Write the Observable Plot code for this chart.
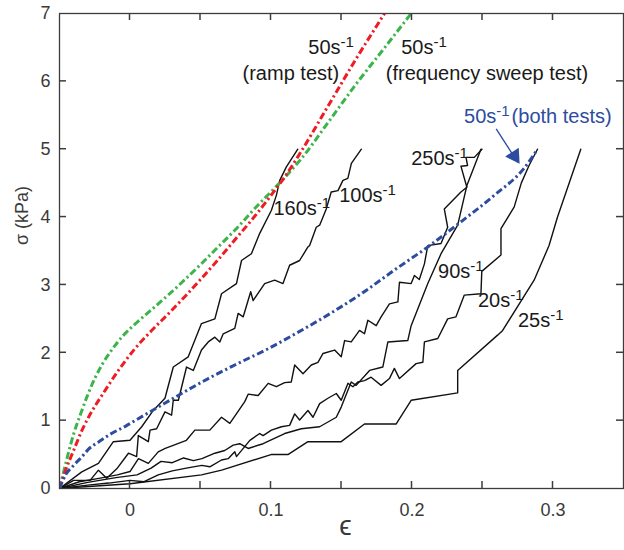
<!DOCTYPE html>
<html><head><meta charset="utf-8">
<script src="https://cdn.jsdelivr.net/npm/d3@7"></script>
<script src="https://cdn.jsdelivr.net/npm/@observablehq/plot@0.6"></script>
<style>body{margin:0;background:#fff;font-family:"Liberation Sans",Arial,sans-serif;} svg{display:block}</style>
</head><body><div id="chart"></div>
<script>
// ---- data: [strain ε, stress σ (kPa)] ----
const rate160 = [[-0.05,0],[-0.0342,0.245],[-0.0224,0.37],[-0.0118,0.69],[0,0.71],[0.0083,0.91],[0.0165,1.15],[0.0248,1.33],[0.0307,1.79],[0.0413,1.94],[0.0507,2.43],[0.0602,2.50],[0.0649,2.87],[0.0755,3.02],[0.0791,3.36],[0.0861,3.46],[0.092,3.76],[0.1003,4.10],[0.1038,4.32],[0.1062,4.54],[0.1109,4.74],[0.119,5.0]];
const rate100 = [[-0.05,0],[-0.04,0.12],[-0.0283,0.12],[-0.0224,0.27],[-0.0165,0.15],[-0.0094,0.29],[-0.0011,0.52],[0.0047,0.47],[0.0059,0.78],[0.013,0.69],[0.0142,0.86],[0.0189,0.88],[0.0248,1.13],[0.0295,1.08],[0.0307,1.30],[0.0343,1.30],[0.0378,1.595],[0.0401,1.79],[0.0449,1.74],[0.0507,2.04],[0.0555,2.16],[0.0602,2.23],[0.0637,2.16],[0.0661,2.28],[0.0743,2.36],[0.0767,2.58],[0.0803,2.53],[0.0856,2.90],[0.0873,2.77],[0.0955,3.02],[0.1026,3.07],[0.1085,3.02],[0.1132,3.29],[0.1203,3.36],[0.1262,3.56],[0.1274,3.58],[0.1321,3.85],[0.1345,3.88],[0.1392,4.12],[0.1427,4.37],[0.1475,4.39],[0.151,4.54],[0.1545,4.57],[0.157,4.79],[0.1641,5.0]];
const rate250 = [[-0.05,0],[-0.036,0.10],[-0.022,0.15],[-0.009,0.20],[0.0,0.25],[0.006,0.44],[0.013,0.37],[0.02,0.54],[0.025,0.59],[0.040,0.71],[0.046,0.86],[0.0566,0.86],[0.0649,1.05],[0.0708,0.96],[0.0814,1.28],[0.0838,1.39],[0.0909,1.37],[0.098,1.55],[0.1038,1.50],[0.1097,1.56],[0.1144,1.57],[0.1168,1.82],[0.1227,1.69],[0.1286,1.82],[0.1333,1.86],[0.1369,1.99],[0.1451,2.04],[0.1498,1.94],[0.1522,2.18],[0.1569,2.16],[0.1628,2.33],[0.1663,2.28],[0.1687,2.48],[0.1746,2.40],[0.1781,2.53],[0.184,2.72],[0.19,2.75],[0.1911,3.04],[0.1994,3.02],[0.2017,3.14],[0.2052,3.08],[0.2088,3.31],[0.2112,3.58],[0.2206,3.61],[0.2253,3.85],[0.2229,4.12],[0.2347,4.37],[0.2389,4.44],[0.2347,4.75],[0.2394,4.76],[0.2383,4.88],[0.2442,4.88],[0.2496,5.0]];
const rate90 = [[-0.05,0],[-0.03,0.09],[-0.01,0.16],[0.005,0.2],[0.015,0.3],[0.022,0.4],[0.03,0.38],[0.038,0.45],[0.045,0.41],[0.051,0.44],[0.0602,0.52],[0.0672,0.56],[0.0732,0.64],[0.0778,0.66],[0.0838,0.59],[0.0944,0.66],[0.1097,0.81],[0.1215,0.88],[0.1345,0.91],[0.1463,1.05],[0.1498,1.20],[0.1569,1.57],[0.1604,1.52],[0.1699,1.74],[0.1793,1.79],[0.1829,2.16],[0.197,2.18],[0.1994,2.40],[0.2112,3.02],[0.2206,3.46],[0.2324,3.88],[0.239,4.47],[0.2489,5.0]];
const rate20 = [[-0.05,0],[-0.03,0.05],[-0.015,0.08],[0,0.12],[0.01,0.1],[0.02,0.2],[0.03,0.26],[0.04,0.3],[0.0509,0.34],[0.0566,0.32],[0.0649,0.42],[0.0696,0.44],[0.0743,0.54],[0.0755,0.47],[0.085,0.71],[0.092,0.81],[0.0944,0.78],[0.1003,0.86],[0.1074,0.91],[0.1132,0.93],[0.1168,1.10],[0.1203,1.01],[0.1262,1.15],[0.1298,1.05],[0.1345,1.25],[0.1404,1.33],[0.1463,1.40],[0.1498,1.30],[0.1546,1.55],[0.1581,1.50],[0.1616,1.57],[0.1663,1.59],[0.171,1.64],[0.1781,1.52],[0.184,1.62],[0.1875,1.77],[0.1911,1.62],[0.2029,1.84],[0.2077,1.86],[0.2088,2.16],[0.2183,2.21],[0.2253,2.50],[0.2312,2.53],[0.2371,2.85],[0.2489,2.87],[0.2495,3.2],[0.2631,3.44],[0.2631,3.83],[0.2725,4.15],[0.2775,4.5],[0.283,4.76],[0.289,5.0]];
const rate25 = [[-0.05,0],[0,0.07],[0.0507,0.2],[0.065,0.27],[0.1,0.5],[0.112,0.5],[0.1262,0.69],[0.1498,0.69],[0.1663,0.95],[0.1887,0.95],[0.1994,1.30],[0.2324,1.41],[0.2324,1.74],[0.2607,2.26],[0.2643,2.33],[0.2866,3.07],[0.2972,3.58],[0.3032,4.0],[0.3197,5.0]];
const ramp50 = [[-0.05,0],[-0.046,0.25],[-0.04,0.56],[-0.034,0.86],[-0.027,1.14],[-0.02,1.37],[-0.0082,1.74],[0.0035,2.06],[0.015,2.32],[0.027,2.57],[0.039,2.83],[0.05,3.08],[0.062,3.36],[0.075,3.68],[0.088,4.0],[0.1,4.32],[0.11,4.6],[0.12,4.92],[0.14,5.62],[0.16,6.32],[0.1805,7.0]];
const sweep50 = [[-0.05,0],[-0.047,0.25],[-0.044,0.5],[-0.04,0.8],[-0.035,1.1],[-0.03,1.38],[-0.025,1.62],[-0.02,1.82],[-0.013,2.04],[-0.005,2.25],[0.005,2.45],[0.015,2.63],[0.027,2.85],[0.039,3.08],[0.051,3.32],[0.062,3.55],[0.075,3.82],[0.09,4.16],[0.105,4.48],[0.1215,4.86],[0.14,5.38],[0.16,5.95],[0.18,6.48],[0.1994,7.0]];
const both50 = [[-0.05,0],[-0.0457,0.2],[-0.04,0.34],[-0.034,0.47],[-0.0294,0.58],[-0.022,0.69],[-0.014,0.8],[-0.003,0.92],[0.0035,1.0],[0.02,1.2],[0.0366,1.4],[0.0555,1.62],[0.0743,1.82],[0.098,2.06],[0.119,2.3],[0.1357,2.5],[0.164,2.87],[0.1876,3.22],[0.2112,3.56],[0.2347,3.93],[0.2583,4.32],[0.2795,4.72],[0.289,5.0]];

const xTickLabels = [0, 0.1, 0.2, 0.3];
const xMinorTicks = [0, 0.05, 0.1, 0.15, 0.2, 0.25, 0.3];
const yTickLabels = [0, 1, 2, 3, 4, 5, 6, 7];
const yInnerTicks = [1, 2, 3, 4, 5, 6];

const blackNames = ["160", "100", "250", "90", "20", "25"];
const blackSeries = [rate160, rate100, rate250, rate90, rate20, rate25];

const labelText = ["50s^-1", "(ramp test)", "50s^-1", "(frequency sweep test)", "160s^-1", "100s^-1", "250s^-1", "90s^-1", "20s^-1", "25s^-1"];
const labelX =    [0.1265, 0.1141, 0.1923, 0.2532, 0.1017, 0.1484, 0.1994, 0.2185, 0.2468, 0.2751];
const labelY =    [6.50, 6.12, 6.50, 6.12, 4.12, 4.32, 4.86, 3.19, 2.77, 2.47];
const labelAnchor = ["start", "middle", "start", "middle", "start", "start", "start", "start", "start", "start"];
const blueLabel = {text: "50s^-1(both tests)", x: 0.2369, y: 5.48};
const arrowFrom = [0.2597, 5.30];
const arrowTo = [0.2749, 4.81];

// ---- build tables ----
const toRows = (pts, name) => pts.map(([x, y]) => ({x, y, name}));
const blackRows = blackSeries.flatMap((s, i) => toRows(s, blackNames[i]));
const labels = labelText.map((t, i) => ({text: t, x: labelX[i], y: labelY[i], anchor: labelAnchor[i]}));

const RED = "#ee1c25", GREEN = "#3bb44a", BLUE = "#2d4ca0", AX = "#3c3c3c", TXT = "#3a3a3a";
const dashed = {strokeWidth: 3, strokeDasharray: "7,3,2.2,3", strokeLinecap: "butt", curve: "monotone-x", clip: true};

const plot = Plot.plot({
  width: 624, height: 550,
  marginLeft: 59, marginRight: 1, marginTop: 13, marginBottom: 62,
  style: {fontFamily: "'Liberation Sans', Arial, sans-serif", background: "#fff"},
  x: {domain: [-0.05, 0.35]},
  y: {domain: [0, 7]},
  marks: [
    Plot.axisX(xTickLabels, {tickSize: 0, tickPadding: 15, fontSize: 18, color: TXT, label: null, tickFormat: d => `${d}`}),
    Plot.axisY(yTickLabels, {tickSize: 0, tickPadding: 9, fontSize: 18, color: TXT, label: null, tickFormat: d => `${d}`}),
    Plot.line(blackRows, {x: "x", y: "y", z: "name", stroke: "#111", strokeWidth: 1.4, clip: true}),
    Plot.line(toRows(sweep50, "sweep"), {x: "x", y: "y", stroke: GREEN, ...dashed}),
    Plot.line(toRows(ramp50, "ramp"), {x: "x", y: "y", stroke: RED, ...dashed}),
    Plot.line(toRows(both50, "both"), {x: "x", y: "y", stroke: BLUE, ...dashed}),
    Plot.link([0], {x1: arrowFrom[0], y1: arrowFrom[1], x2: arrowTo[0], y2: arrowTo[1], stroke: BLUE, strokeWidth: 1.3}),
    Plot.dot([0], {x: arrowTo[0] - 0.0022, y: arrowTo[1] + 0.09, symbol: "triangle", r: 6, fill: BLUE, stroke: "none", rotate: 147}),
    Plot.text(labels.filter(d => d.anchor === "start"), {x: "x", y: "y", text: "text", textAnchor: "start", fontSize: 20, fill: "#1a1a1a", lineAnchor: "middle"}),
    Plot.text(labels.filter(d => d.anchor === "middle"), {x: "x", y: "y", text: "text", textAnchor: "middle", fontSize: 20, fill: "#1a1a1a", lineAnchor: "middle"}),
    Plot.text([blueLabel], {x: "x", y: "y", text: "text", textAnchor: "start", fontSize: 20, fill: BLUE, lineAnchor: "middle"}),
    Plot.text(["σ (kPa)"], {frameAnchor: "left", dx: -37, dy: -6, rotate: -90, fontSize: 18, fill: TXT}),
    Plot.text(["ϵ"], {frameAnchor: "bottom", dx: 4, dy: 46, fontSize: 28, fill: TXT}),
    Plot.frame({stroke: AX, strokeWidth: 1.3})
  ]
});

// inward tick marks (MATLAB style) on all four sides, placed with Plot's own scales
const sx = plot.scale("x"), sy = plot.scale("y");
const [X0, X1] = sx.range, [Y0, Y1] = sy.range; // Y0 = bottom, Y1 = top
const TL = 7;
const tg = d3.select(plot).append("g").attr("stroke", AX).attr("stroke-width", 1.5).attr("aria-label", "inner ticks");
for (const v of xMinorTicks) {
  const X = sx.apply(v);
  tg.append("line").attr("x1", X).attr("x2", X).attr("y1", Y0).attr("y2", Y0 - TL);
  tg.append("line").attr("x1", X).attr("x2", X).attr("y1", Y1).attr("y2", Y1 + TL);
}
for (const v of yInnerTicks) {
  const Y = sy.apply(v);
  tg.append("line").attr("y1", Y).attr("y2", Y).attr("x1", X0).attr("x2", X0 + TL);
  tg.append("line").attr("y1", Y).attr("y2", Y).attr("x1", X1).attr("x2", X1 - TL);
}

// superscripts for "s^-1"
d3.select(plot).selectAll("text").each(function() {
  const t = this.textContent;
  const m = t.match(/^(.*?)\^(-1)(.*)$/);
  if (!m) return;
  const el = d3.select(this);
  el.text(null);
  el.append("tspan").text(m[1]);
  el.append("tspan").attr("dy", "-7").attr("font-size", "15").text(m[2]);
  if (m[3]) el.append("tspan").attr("dy", "7").attr("dx", "2").text(m[3]);
});

document.getElementById("chart").appendChild(plot);
</script>
</body></html>
